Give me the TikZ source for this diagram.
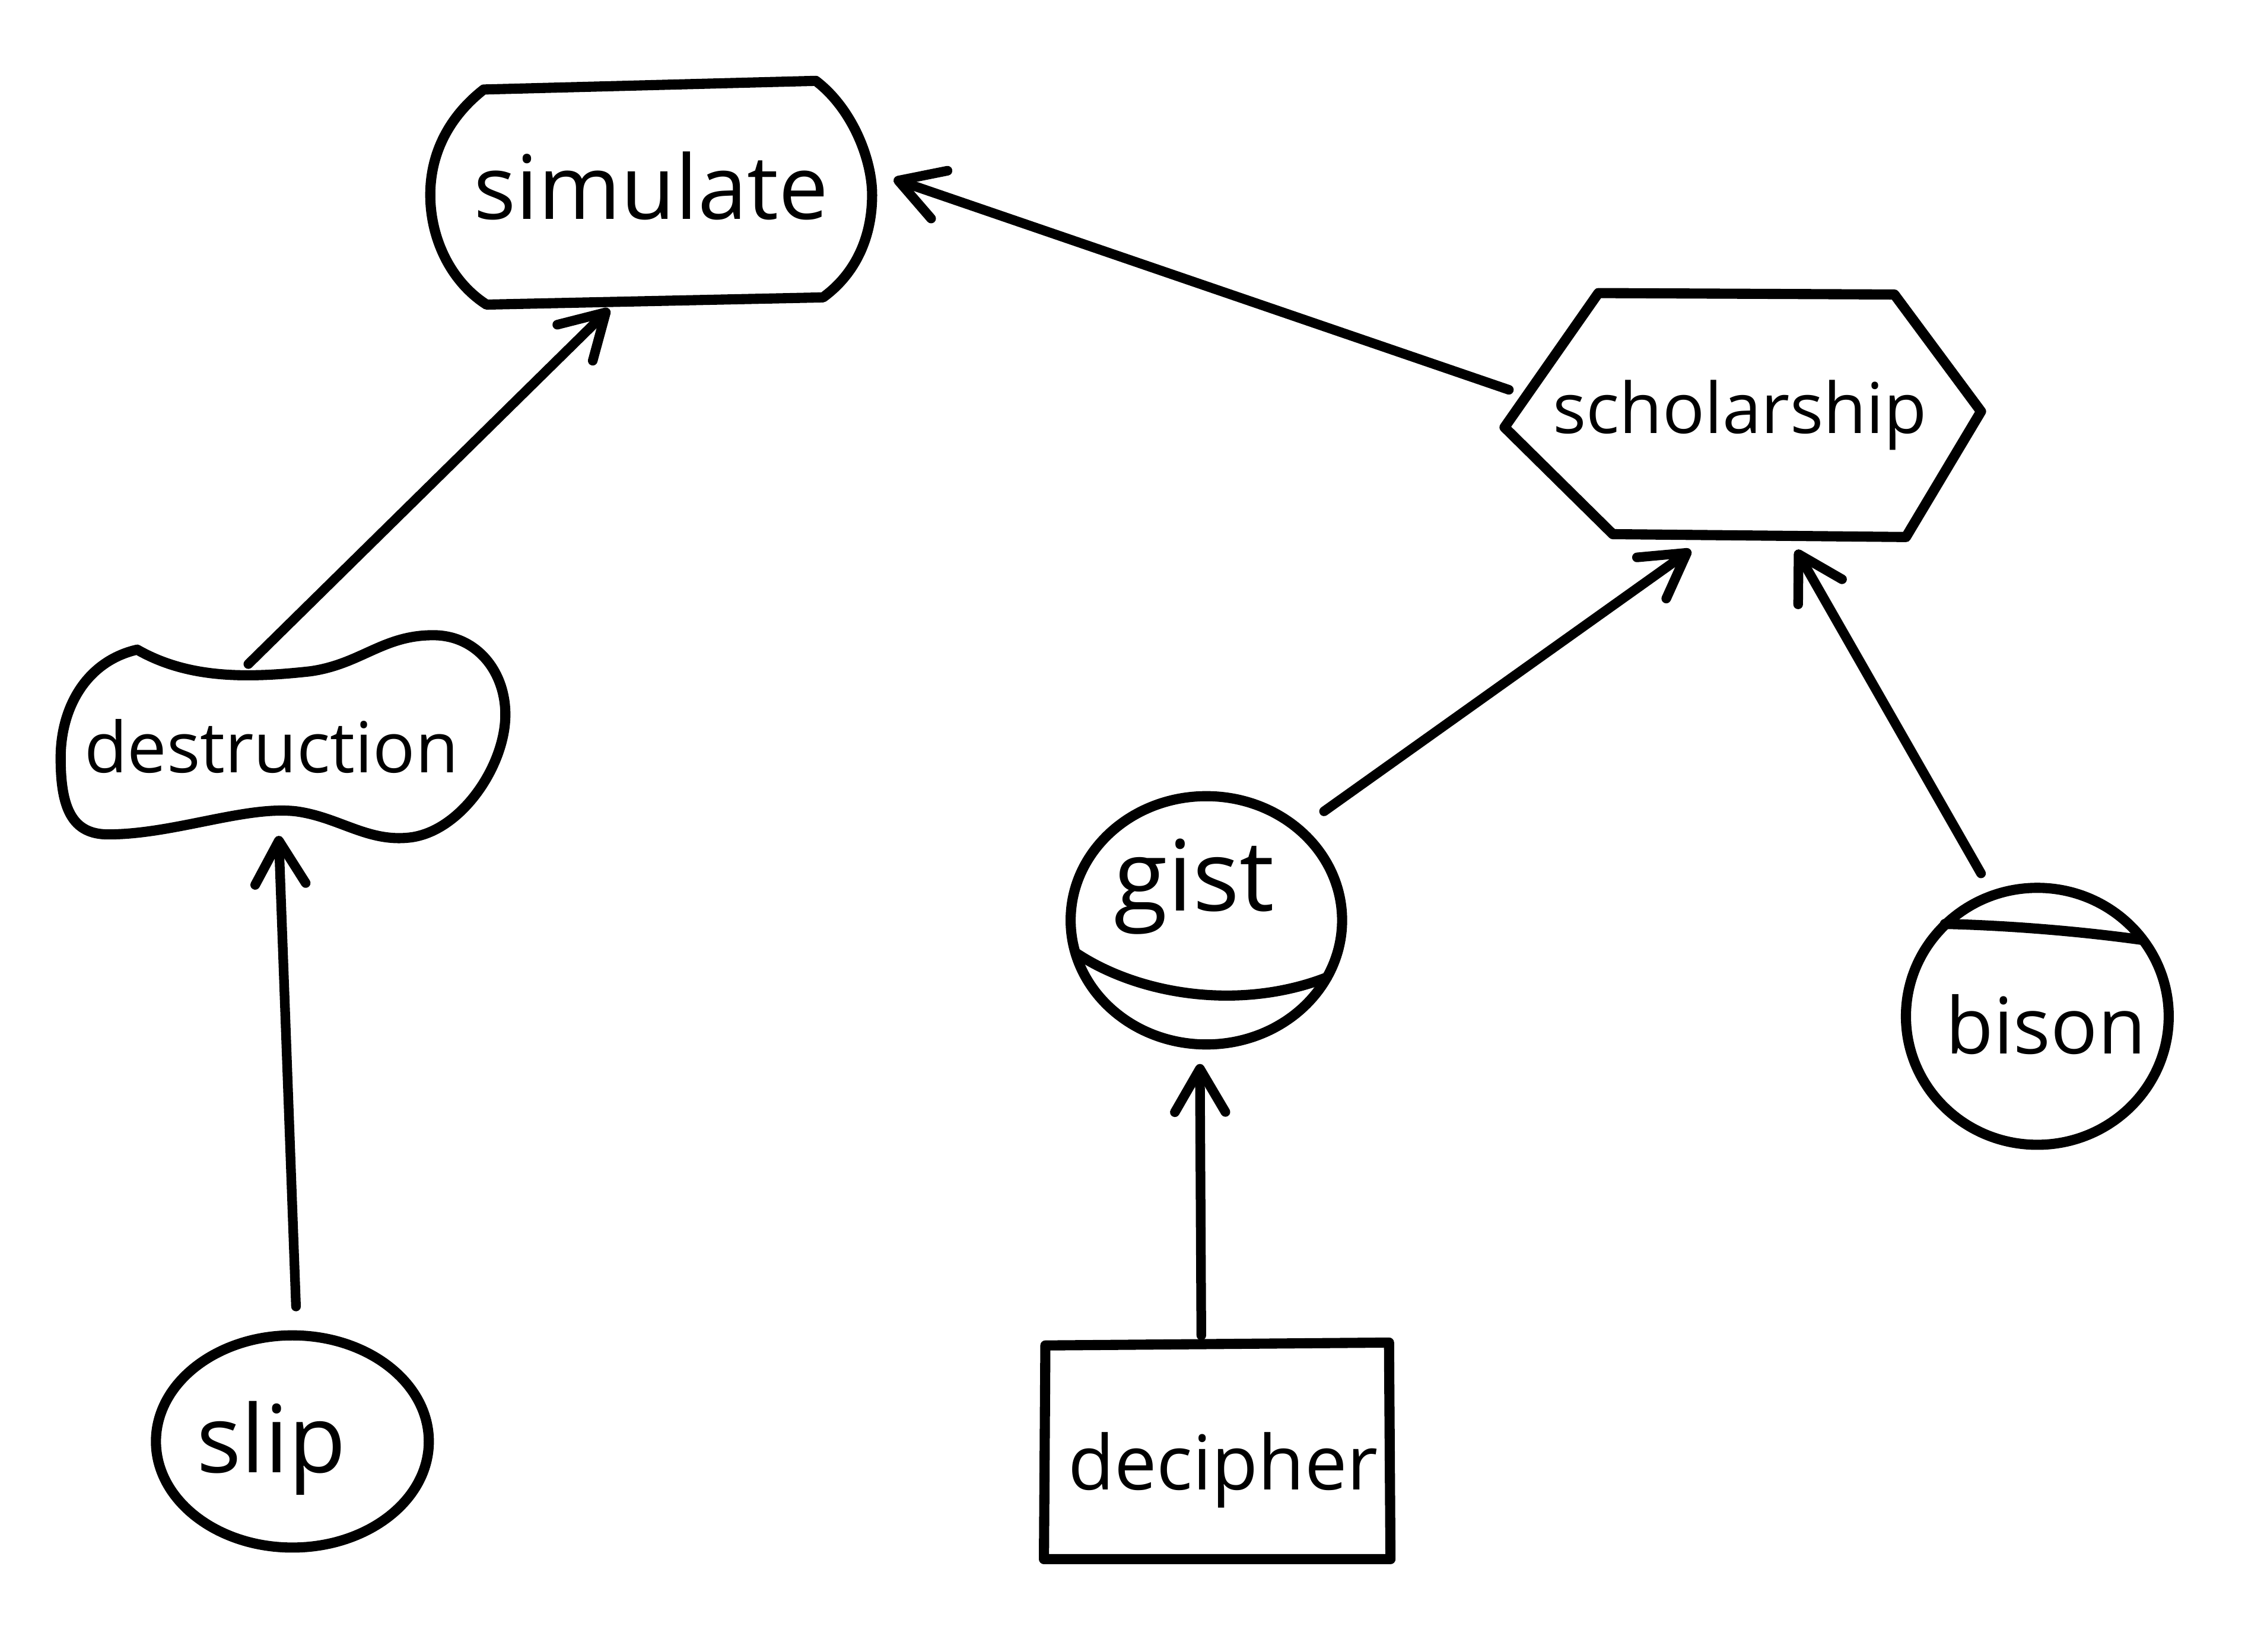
\documentclass[tikz,border=0pt]{standalone}
\usepackage{fontspec}
\setmainfont{Open Sans}
\usetikzlibrary{arrows.meta,calc}
\begin{document}
\begin{tikzpicture}[x=0.2mm,y=-0.2mm,
  outline/.style={line width=4pt, line cap=round, line join=round},
  conn/.style={line width=3.8pt, line cap=round, line join=round,
    -{Straight Barb[length=6mm,width=7mm,line cap=round,line join=round]}},
  lbl/.style={anchor=base, inner sep=0pt}]
\useasboundingbox[fill=white] (0,0) rectangle (1568,1144);

% labels (named nodes)
\node[lbl,font=\fontsize{35}{40}\selectfont] (simulate) at (451,152) {simulate};
\node[lbl,font=\fontsize{27.6}{32}\selectfont] (scholarship) at (1205,300) {scholarship};
\node[lbl,font=\fontsize{27.7}{32}\selectfont] (destruction) at (188,535) {destruction};
\node[lbl,font=\fontsize{38.7}{44}\selectfont] (gist) at (827,631) {gist};
\node[lbl,font=\fontsize{30.8}{36}\selectfont] (bison) at (1417,730) {bison};
\node[lbl,font=\fontsize{37}{42}\selectfont] (slip) at (188,1020) {slip};
\node[lbl,font=\fontsize{29.8}{34}\selectfont] (decipher) at (847,1032) {decipher};

% outlines
\draw[outline] (335,62) -- (565,56) .. controls (590,75) and (604,110) .. (604,135)
  .. controls (604,165) and (592,190) .. (570,206) -- (337,211)
  .. controls (312,195) and (298,165) .. (298,135)
  .. controls (298,105) and (312,80) .. (335,62) -- cycle;

\draw[outline] (1107,203) -- (1312,204) -- (1372,285) -- (1320,372)
  -- (1117,370) -- (1042,296) -- cycle;

\draw[outline] (95,450) .. controls (130,470) and (170,470) .. (215,465)
  .. controls (250,460) and (265,440) .. (300,440)
  .. controls (330,440) and (350,465) .. (350,495)
  .. controls (350,530) and (320,575) .. (285,580)
  .. controls (255,584) and (235,566) .. (205,562)
  .. controls (170,558) and (120,578) .. (75,578)
  .. controls (50,578) and (42,560) .. (42,525)
  .. controls (42,490) and (60,458) .. (95,450) -- cycle;

\draw[outline] (835.5,637.5) ellipse [x radius=94, y radius=86];
\draw[outline] (745,660) .. controls (790,690) and (860,700) .. (919,677);

\draw[outline] (1411,704) ellipse [x radius=91, y radius=89];
\draw[outline] (1347,640) .. controls (1390,641) and (1440,645) .. (1483,651);

\draw[outline] (202.5,998.5) ellipse [x radius=94.5, y radius=73.5];

\draw[outline] (724,932) -- (962,930) -- (963,1080) -- (723,1080) -- cycle;

% connectors
\draw[conn] ($(destruction.base)+(-16,-75)$) -- ($(simulate.base)+(-29,62)$);
\draw[conn] ($(scholarship.base)+(-160,-30)$) -- ($(simulate.base)+(168,-28)$);
\draw[conn] ($(slip.base)+(17,-115)$) -- ($(destruction.base)+(5,44)$);
\draw[conn] ($(gist.base)+(90,-69)$) -- ($(scholarship.base)+(-34,81)$);
\draw[conn] ($(bison.base)+(-45,-125)$) -- ($(scholarship.base)+(39,81)$);
\draw[conn] ($(decipher.base)+(-15,-107)$) -- ($(gist.base)+(4,106)$);
\end{tikzpicture}
\end{document}
